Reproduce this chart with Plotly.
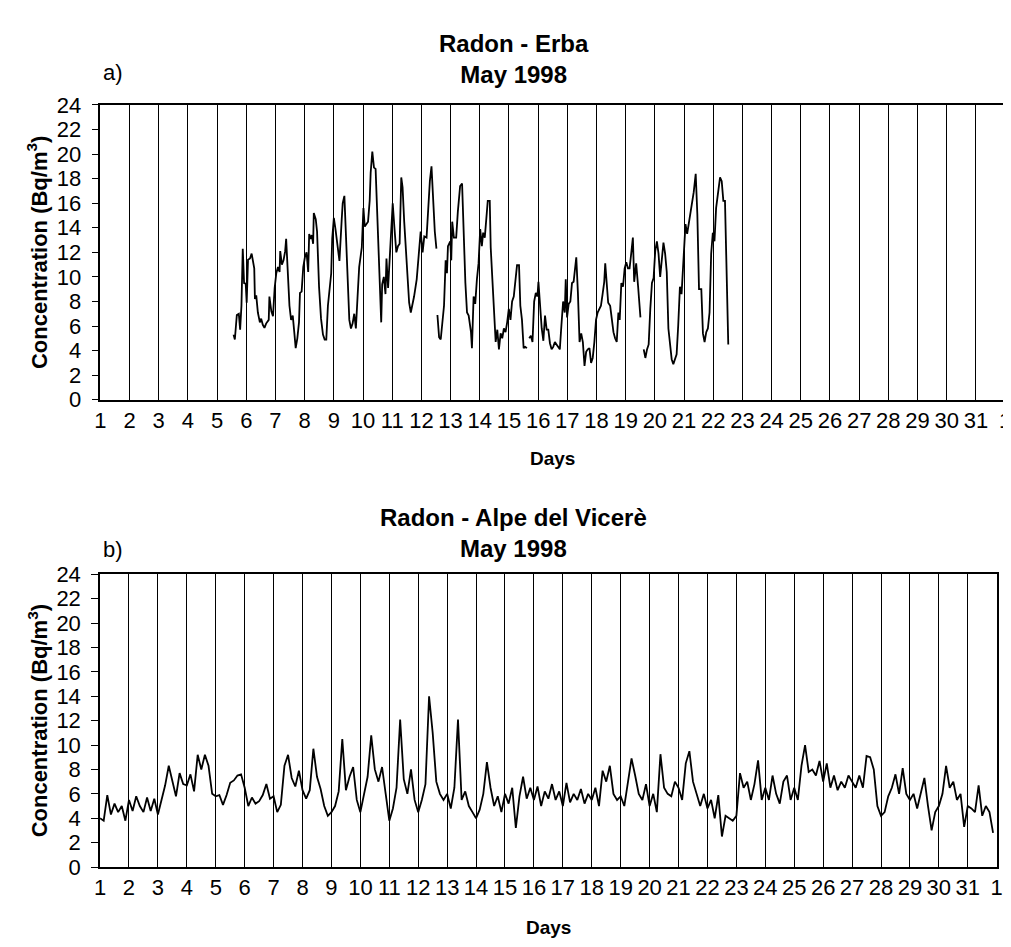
import plotly.graph_objects as go

# ---------------- data ----------------
# Erba: (day of May, concentration Bq/m3); None marks gaps in the record
erba_day = [
 5.563,5.608,5.676,5.744,5.789,5.834,5.879,5.924,5.980,6.014,6.059,6.127,6.183,6.273,6.296,6.341,6.397,6.465,6.510,6.566,
 6.623,6.679,6.769,6.792,6.859,6.915,6.972,7.028,7.085,7.141,7.163,7.220,7.276,7.332,7.366,7.411,7.479,7.535,7.592,7.648,
 7.693,7.749,7.806,7.839,7.896,7.952,8.008,8.065,8.121,8.155,8.200,8.245,8.290,8.313,8.380,8.425,8.493,8.561,8.628,8.685,
 8.741,8.797,8.854,8.910,8.944,9.000,9.056,9.113,9.192,9.270,9.304,9.361,9.417,9.473,9.530,9.586,9.642,9.699,9.755,9.811,
 9.868,9.958,10.014,10.059,10.115,10.172,10.228,10.262,10.318,10.375,10.431,10.487,10.544,10.577,10.623,10.656,10.713,10.769,10.803,10.859,
 10.904,10.972,11.017,11.073,11.141,11.197,11.254,11.310,11.355,11.411,11.479,11.535,11.580,11.637,11.693,11.749,11.839,11.918,11.975,12.042,
 12.099,12.177,12.234,12.290,12.346,12.414,12.459,12.515,12.53,
 12.549,12.606,12.662,12.718,12.775,12.831,12.876,12.910,12.989,13.023,13.056,13.113,13.192,13.248,13.327,13.394,13.451,13.507,13.563,13.620,
 13.699,13.732,13.789,13.845,13.902,13.958,14.015,14.071,14.116,14.172,14.240,14.274,14.342,14.375,14.432,14.488,14.545,14.601,14.657,14.714,
 14.770,14.826,14.883,14.939,14.995,15.052,15.108,15.165,15.221,15.277,15.345,15.390,15.446,15.503,15.559,15.616,15.65,
 15.694,15.751,15.807,15.864,15.920,15.976,16.010,16.066,16.123,16.179,16.236,16.292,16.348,16.405,16.461,16.517,16.574,16.630,16.687,16.743,
 16.799,16.856,16.912,16.946,16.991,17.047,17.104,17.160,17.216,17.250,17.307,17.363,17.419,17.476,17.532,17.589,17.645,17.701,17.758,17.814,
 17.870,17.927,17.983,18.039,18.096,18.152,18.209,18.265,18.299,18.344,18.400,18.468,18.524,18.581,18.637,18.693,18.750,18.795,18.851,18.908,
 18.964,19.020,19.077,19.133,19.189,19.246,19.291,19.359,19.426,19.505,19.56,
 19.618,19.674,19.731,19.787,19.843,19.900,19.956,20.012,20.069,20.125,20.181,20.238,20.294,20.351,20.407,20.463,20.520,20.576,20.632,20.689,
 20.745,20.801,20.858,20.914,20.948,21.004,21.049,21.106,21.162,21.219,21.275,21.331,21.399,21.455,21.512,21.591,21.647,21.703,21.760,21.816,
 21.873,21.929,21.985,22.042,22.098,22.177,22.233,22.290,22.346,22.402,22.459,22.515,
]
erba_conc = [
 5.3,4.9,6.9,7.0,5.7,7.65,12.3,9.5,9.45,7.9,11.4,11.5,11.9,10.7,8.2,8.5,7.1,6.3,6.6,6.1,
 5.85,6.2,6.5,8.4,7.2,6.8,9.1,10.3,10.8,10.4,12.1,11.0,11.35,12.1,13.1,10.3,7.65,6.5,6.85,5.4,
 4.2,5.0,6.3,8.7,8.8,10.8,11.6,12.0,10.4,13.5,13.1,13.4,12.7,15.2,14.7,13.7,9.2,6.6,5.3,4.9,
 4.9,7.65,9.2,10.3,13.1,14.8,13.9,12.9,11.3,14.7,16.0,16.6,13.5,10.6,6.5,5.8,6.2,7.0,5.8,8.3,
 10.8,12.4,15.6,14.1,14.3,14.5,16.2,18.5,20.2,18.9,18.8,15.3,11.4,8.7,6.3,9.4,10.0,8.6,11.5,9.1,
 11.35,13.7,16.0,14.1,12.0,12.5,12.7,18.1,17.3,14.5,11.6,9.8,7.9,7.1,7.7,8.4,9.8,12.0,13.7,12.0,
 13.3,13.2,15.6,17.8,19.0,15.8,13.7,12.3,None,
 6.9,5.1,4.9,6.1,7.65,11.35,10.3,12.5,12.9,11.35,14.5,13.2,13.2,15.3,17.4,17.6,12.4,9.5,7.1,6.85,
 5.5,4.2,8.4,7.8,9.8,11.1,13.9,12.5,13.6,13.2,15.2,16.2,16.2,12.4,9.8,6.7,4.7,5.7,4.1,5.4,
 5.0,5.8,5.5,6.3,7.4,6.5,8.0,8.4,10.0,10.95,10.95,7.65,6.5,4.2,4.3,4.2,None,
 5.0,5.2,4.7,8.0,8.7,8.4,9.6,7.5,5.8,4.8,6.85,5.7,5.7,4.6,4.1,4.3,4.7,4.5,4.3,4.1,
 6.1,8.0,7.1,9.8,6.7,7.8,8.0,9.5,9.6,10.3,11.6,8.7,4.7,5.4,4.7,2.75,3.9,4.1,4.2,3.0,
 3.4,4.7,6.5,7.1,7.4,7.65,8.6,9.6,11.1,9.2,7.9,7.65,6.5,5.5,5.0,4.7,7.1,6.5,9.5,9.2,
 10.7,11.2,10.7,10.7,11.9,13.2,9.6,11.1,9.2,6.7,None,
 4.1,3.4,4.1,4.5,7.4,9.5,9.9,12.1,12.9,11.9,10.0,11.6,12.8,11.9,10.4,5.8,4.7,3.3,2.9,3.3,
 3.7,6.1,9.2,8.6,10.0,12.7,14.3,13.5,14.3,15.1,16.0,16.9,18.4,15.1,9.0,9.0,5.4,4.7,5.5,5.8,
 7.1,11.9,13.6,12.9,15.6,17.3,18.1,17.8,16.2,16.2,10.3,4.5,
]

# Alpe del Vicere: 3-hourly readings, eight per day, 1 May 00h to 31 May 21h
alpe_start_day = 1.0
alpe_step_day = 1.0 / 8.0
alpe_conc = [
 4.0,3.8,5.9,4.3,5.2,4.5,5.0,3.8,    5.5,4.6,5.8,5.0,4.5,5.7,4.6,5.6,
 4.3,5.6,6.7,8.3,7.0,5.8,7.7,6.8,    6.7,7.6,6.2,9.2,8.0,9.2,8.3,6.0,
 5.8,5.9,5.1,5.9,6.9,7.1,7.5,7.6,    6.5,5.0,5.7,5.2,5.4,5.9,6.8,5.6,
 5.8,4.5,5.1,8.3,9.2,7.3,6.6,7.9,    6.3,5.6,6.3,9.7,7.4,6.4,5.0,4.2,
 4.5,5.0,6.2,10.5,6.3,7.4,8.2,5.5,   4.5,6.0,7.4,10.8,8.0,7.0,8.2,6.0,
 3.8,4.8,6.5,12.1,7.2,6.0,8.0,5.5,   4.5,5.5,6.8,14.0,11.0,7.0,6.0,5.5,
 6.0,4.8,6.5,12.1,5.5,6.2,5.0,4.5,   4.0,4.7,6.0,8.6,6.5,5.0,5.8,4.5,
 6.0,5.2,6.5,3.2,5.8,7.4,5.6,6.5,    5.5,6.6,5.0,6.2,5.6,6.8,5.5,6.2,
 5.0,6.9,5.3,6.0,5.5,6.4,5.2,6.0,    5.5,6.5,5.0,7.9,7.0,8.3,6.0,5.5,
 5.8,5.0,7.0,8.9,7.5,6.0,5.5,6.8,    5.0,6.0,4.5,9.25,6.5,6.0,5.8,7.0,
 6.5,5.5,8.5,9.5,7.0,6.0,5.0,6.0,    4.8,5.5,4.0,5.9,2.5,4.2,4.0,3.8,
 4.2,7.7,6.5,7.0,5.5,6.8,8.75,5.5,   6.5,5.5,7.5,6.0,5.2,7.0,7.5,5.5,
 6.5,5.5,8.3,10.0,7.8,8.0,7.5,8.7,   7.0,8.5,6.5,7.5,6.3,7.0,6.5,7.5,
 7.0,6.5,7.5,6.5,9.1,9.0,8.0,5.0,    4.2,4.5,5.8,6.5,7.6,6.0,8.1,6.0,
 5.5,6.0,4.8,6.0,7.3,5.0,3.0,4.5,    5.0,6.0,8.3,6.5,7.0,5.5,6.0,3.3,
 5.0,4.8,4.5,6.7,4.2,5.0,4.5,2.8,
]
alpe_day = [alpe_start_day + i * alpe_step_day for i in range(len(alpe_conc))]

day_ticks = list(range(1, 33))
day_labels = [str(d) for d in range(1, 32)] + ["1"]

titles = ["Radon - Erba<br>May 1998", "Radon - Alpe del Vicerè<br>May 1998"]
panel_tags = ["a)", "b)"]
y_title = "Concentration (Bq/m<sup>3</sup>)"
x_title = "Days"

# ---------------- figure ----------------
W, H = 1011, 947
FONT = "Liberation Sans, Arial, sans-serif"

fig = go.Figure()
fig.add_trace(go.Scatter(x=erba_day, y=erba_conc, mode="lines", connectgaps=False,
                         line=dict(color="black", width=1.8), xaxis="x", yaxis="y",
                         showlegend=False, hoverinfo="skip"))
fig.add_trace(go.Scatter(x=alpe_day, y=alpe_conc, mode="lines",
                         line=dict(color="black", width=1.8), xaxis="x2", yaxis="y2",
                         showlegend=False, hoverinfo="skip"))

def px_x(v):
    return v / W

def px_y(v):
    return 1 - v / H

# plot-area rectangles in pixels (left, right, top, bottom)
boxes = [(87.4, 1003.0, 87.3, 390.0), (87.1, 994.5, 569.3, 870.0)]
title_center_y = [40, 527]
tag_y = [54, 544]
days_y = [450, 932]

TICKSIZE = 22
common_x = dict(range=[1, 32], tickmode="array", tickvals=day_ticks, ticktext=day_labels,
                showgrid=True, gridcolor="black", gridwidth=1, zeroline=False,
                showline=True, linecolor="black", linewidth=1.6, mirror=True,
                ticks="", ticklabeloverflow="allow",
                tickfont=dict(family=FONT, size=TICKSIZE, color="black"),
                fixedrange=True)
common_y = dict(range=[0, 24], tickmode="linear", tick0=0, dtick=2, showgrid=False,
                zeroline=False, showline=True, linecolor="black", linewidth=1.6, mirror=True,
                ticks="outside", ticklen=7, tickwidth=1.4, tickcolor="black",
                ticklabelstandoff=6,
                tickfont=dict(family=FONT, size=TICKSIZE, color="black"), fixedrange=True)

layout = dict(width=W, height=H, margin=dict(l=0, r=0, t=0, b=0),
              paper_bgcolor="white", plot_bgcolor="white", showlegend=False)

annotations = []
for i, (l, r, t, b) in enumerate(boxes):
    xs = "" if i == 0 else "2"
    layout["xaxis" + xs] = dict(common_x, domain=[px_x(l), px_x(r)], anchor="y" + xs)
    layout["yaxis" + xs] = dict(common_y, domain=[px_y(b), px_y(t)], anchor="x" + xs)
    # inner tick marks so the y ticks cross the axis line
    layout["yaxis" + str(3 + i)] = dict(range=[0, 24], tickmode="linear", tick0=0, dtick=2,
                                      overlaying="y" + xs, anchor="x" + xs, side="left",
                                      ticks="inside", ticklen=7, tickwidth=1.4, tickcolor="black",
                                      showticklabels=False, showgrid=False, zeroline=False,
                                      showline=False, fixedrange=True)
    cx = (l + r) / 2
    annotations.append(dict(text="<b>" + titles[i] + "</b>", x=0.5, y=px_y(title_center_y[i]),
                            xref="paper", yref="paper", xanchor="center", yanchor="middle",
                            showarrow=False, font=dict(family=FONT, size=24, color="black")))
    annotations.append(dict(text=panel_tags[i], x=px_x(l + 1), y=px_y(tag_y[i]), xref="paper",
                            yref="paper", xanchor="left", yanchor="middle", showarrow=False,
                            font=dict(family=FONT, size=22, color="black")))
    annotations.append(dict(text="<b>" + x_title + "</b>", x=px_x(cx), y=px_y(days_y[i]),
                            xref="paper", yref="paper", xanchor="center", yanchor="middle",
                            showarrow=False, font=dict(family=FONT, size=19, color="black")))
    annotations.append(dict(text="<b>" + y_title + "</b>", x=px_x(24), y=px_y((t + b) / 2),
                            xref="paper", yref="paper", xanchor="center", yanchor="middle",
                            textangle=-90, showarrow=False,
                            font=dict(family=FONT, size=22, color="black")))

layout["annotations"] = annotations
fig.update_layout(**layout)

fig.write_html("out.html")
